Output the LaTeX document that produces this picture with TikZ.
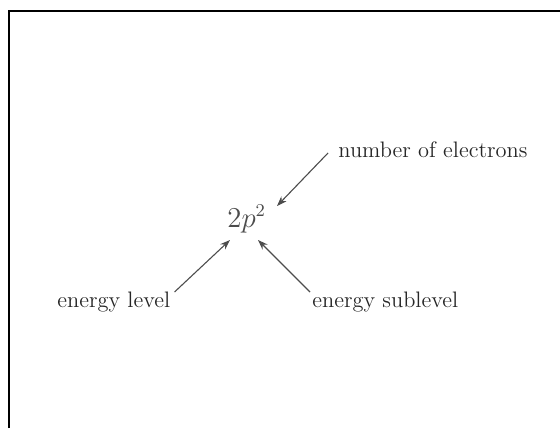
\documentclass[tikz,border=0pt]{standalone}
\usetikzlibrary{arrows.meta,calc}
\begin{document}
\begin{tikzpicture}[x=0.5pt,y=-0.5pt,
  lbl/.style={inner sep=0pt,font=\fontsize{11.2}{13}\selectfont,text=black!85},
  formula/.style={inner sep=0pt,font=\fontsize{13.5}{15}\selectfont,text=black!70},
  arr/.style={draw=black!70,line width=0.55pt,-{Stealth[length=5pt,width=3.6pt]}},
  frame/.style={draw=black,line width=1pt}]
\useasboundingbox (0,0) rectangle (560,428);
\draw[frame] (9.3,428) -- (9.3,11) -- (560,11);
\node[formula,anchor=base west] (two) at (227,227) {$2p^2$};
\node[lbl,anchor=base west] (elec) at (338,157) {number of electrons};
\node[lbl,anchor=base west] (lvl) at (57,307) {energy level};
\node[lbl,anchor=base west] (sub) at (312,307) {energy sublevel};
\draw[arr] ($(elec.base west)+(-10,-4)$) -- ($(two.base west)+(50,-21)$);
\draw[arr] ($(lvl.base east)+(4,-15)$) -- ($(two.base west)+(3,13)$);
\draw[arr] ($(sub.base west)+(-2,-15)$) -- ($(two.base west)+(31,13)$);
\end{tikzpicture}
\end{document}
